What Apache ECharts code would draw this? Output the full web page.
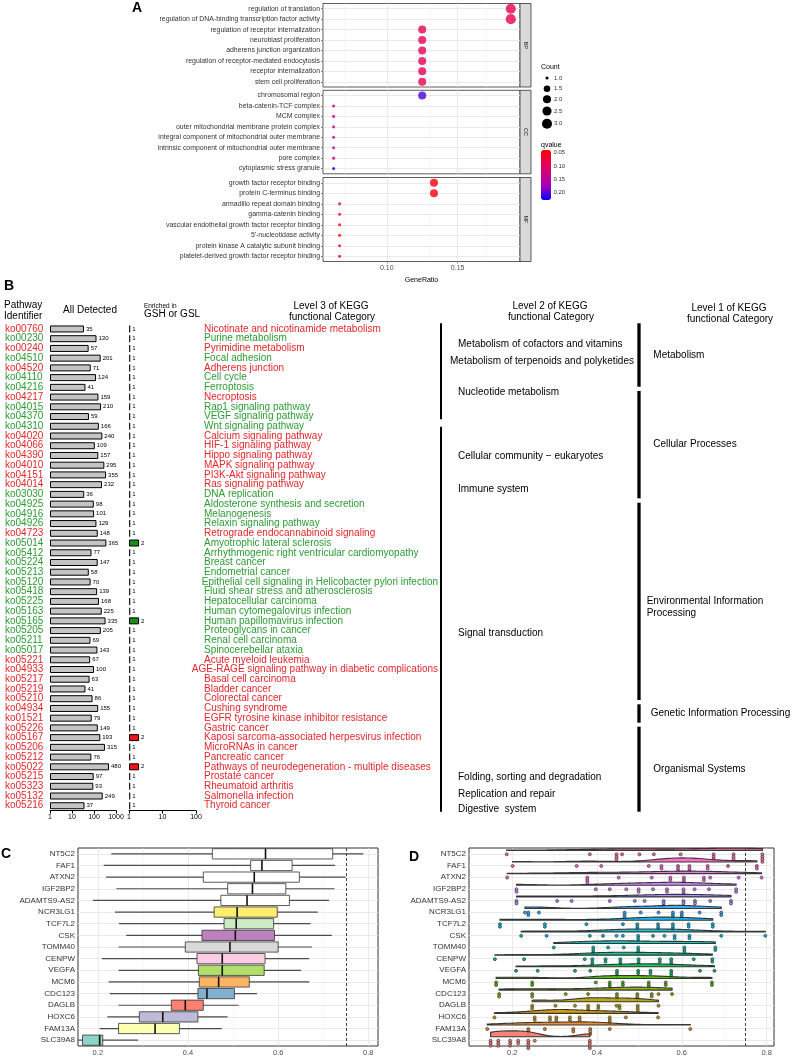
<!DOCTYPE html>
<html><head><meta charset="utf-8">
<script src="https://cdn.jsdelivr.net/npm/echarts/dist/echarts.min.js"></script>
<style>html,body{margin:0;padding:0;background:#fff}
#wrap{position:relative;width:793px;height:1061px}
.layer{position:absolute;left:0;top:0;width:793px;height:1061px}</style>
</head><body><div id="wrap"><div class="layer" id="cA"></div><div class="layer" id="cB"></div><div class="layer" id="cC"></div><div class="layer" id="cD"></div></div>
<script>
// ---------------- DATA ----------------
// Panel A (GO enrichment dot plot)
const bpTerms = ['regulation of translation','regulation of DNA-binding transcription factor activity','regulation of receptor internalization','neuroblast proliferation','adherens junction organization','regulation of receptor-mediated endocytosis','receptor internalization','stem cell proliferation'];
const bpRatio = [0.1875,0.1875,0.125,0.125,0.125,0.125,0.125,0.125];
const bpCount = [3,3,2,2,2,2,2,2];
const bpQ = [0.085,0.085,0.09,0.09,0.09,0.09,0.09,0.09];
const ccTerms = ['chromosomal region','beta-catenin-TCF complex','MCM complex','outer mitochondrial membrane protein complex','integral component of mitochondrial outer membrane','intrinsic component of mitochondrial outer membrane','pore complex','cytoplasmic stress granule'];
const ccRatio = [0.125,0.0625,0.0625,0.0625,0.0625,0.0625,0.0625,0.0625];
const ccCount = [2,1,1,1,1,1,1,1];
const ccQ = [0.205,0.145,0.145,0.145,0.145,0.145,0.145,0.22];
const mfTerms = ['growth factor receptor binding','protein C-terminus binding','armadillo repeat domain binding','gamma-catenin binding','vascular endothelial growth factor receptor binding',"5'-nucleotidase activity",'protein kinase A catalytic subunit binding','platelet-derived growth factor receptor binding'];
const mfRatio = [0.1333,0.1333,0.0667,0.0667,0.0667,0.0667,0.0667,0.0667];
const mfCount = [2,2,1,1,1,1,1,1];
const mfQ = [0.05,0.05,0.055,0.055,0.055,0.055,0.055,0.055];
const ontologies = ['BP','CC','MF'];
const countLegend = [1.0,1.5,2.0,2.5,3.0];
const qLegend = [0.05,0.10,0.15,0.20];

// Panel B (KEGG table)
const pathwayIds = ['ko00760','ko00230','ko00240','ko04510','ko04520','ko04110','ko04216','ko04217','ko04015','ko04370','ko04310','ko04020','ko04066','ko04390','ko04010','ko04151','ko04014','ko03030','ko04925','ko04916','ko04926','ko04723','ko05014','ko05412','ko05224','ko05213','ko05120','ko05418','ko05225','ko05163','ko05165','ko05205','ko05211','ko05017','ko05221','ko04933','ko05217','ko05219','ko05210','ko04934','ko01521','ko05226','ko05167','ko05206','ko05212','ko05022','ko05215','ko05323','ko05132','ko05216'];
const pathwayNames = ['Nicotinate and nicotinamide metabolism','Purine metabolism','Pyrimidine metabolism','Focal adhesion','Adherens junction','Cell cycle','Ferroptosis','Necroptosis','Rap1 signaling pathway','VEGF signaling pathway','Wnt signaling pathway','Calcium signaling pathway','HIF-1 signaling pathway','Hippo signaling pathway','MAPK signaling pathway','PI3K-Akt signaling pathway','Ras signaling pathway','DNA replication','Aldosterone synthesis and secretion','Melanogenesis','Relaxin signaling pathway','Retrograde endocannabinoid signaling','Amyotrophic lateral sclerosis','Arrhythmogenic right ventricular cardiomyopathy','Breast cancer','Endometrial cancer','Epithelial cell signaling in Helicobacter pylori infection','Fluid shear stress and atherosclerosis','Hepatocellular carcinoma','Human cytomegalovirus infection','Human papillomavirus infection','Proteoglycans in cancer','Renal cell carcinoma','Spinocerebellar ataxia','Acute myeloid leukemia','AGE-RAGE signaling pathway in diabetic complications','Basal cell carcinoma','Bladder cancer','Colorectal cancer','Cushing syndrome','EGFR tyrosine kinase inhibitor resistance','Gastric cancer','Kaposi sarcoma-associated herpesvirus infection','MicroRNAs in cancer','Pancreatic cancer','Pathways of neurodegeneration - multiple diseases','Prostate cancer','Rheumatoid arthritis','Salmonella infection','Thyroid cancer'];
const pathwayGroup = ['r','g','r','g','r','g','g','r','g','g','g','r','r','r','r','r','r','g','g','g','g','r','g','g','g','g','g','g','g','g','g','g','g','g','r','r','r','r','r','r','r','r','r','r','r','r','r','r','r','r'];
const allDetected = [35,130,57,201,71,124,41,159,210,59,166,240,109,157,295,355,232,36,98,101,129,148,365,77,147,58,70,139,168,225,335,205,69,143,67,100,63,41,86,155,79,149,193,315,76,480,97,93,249,37];
const enriched = [1,1,1,1,1,1,1,1,1,1,1,1,1,1,1,1,1,1,1,1,1,1,2,1,1,1,1,1,1,1,2,1,1,1,1,1,1,1,1,1,1,1,2,1,1,2,1,1,1,1];
const level2Labels = ['Metabolism of cofactors and vitamins','Metabolism of terpenoids and polyketides','Nucleotide metabolism','Cellular community \u2212 eukaryotes','Immune system','Signal transduction','Folding, sorting and degradation','Replication and repair','Digestive  system'];
const level1Labels = ['Metabolism','Cellular Processes','Environmental Information\nProcessing','Genetic Information Processing','Organismal Systems'];

// Panel C / D
const genes = ['NT5C2','FAF1','ATXN2','IGF2BP2','ADAMTS9-AS2','NCR3LG1','TCF7L2','CSK','TOMM40','CENPW','VEGFA','MCM6','CDC123','DAGLB','HOXC6','FAM13A','SLC39A8'];
const boxMin = [0.230,0.213,0.218,0.241,0.189,0.238,0.247,0.263,0.246,0.209,0.246,0.224,0.227,0.246,0.221,0.204,0.155];
const boxQ1  = [0.454,0.539,0.434,0.488,0.473,0.458,0.480,0.431,0.394,0.420,0.423,0.425,0.422,0.363,0.292,0.246,0.166];
const boxMed = [0.572,0.564,0.547,0.543,0.531,0.509,0.507,0.505,0.493,0.476,0.476,0.468,0.442,0.394,0.344,0.327,0.204];
const boxQ3  = [0.721,0.631,0.647,0.617,0.625,0.598,0.590,0.592,0.600,0.571,0.569,0.536,0.503,0.434,0.422,0.381,0.211];
const boxMax = [0.789,0.726,0.750,0.725,0.713,0.688,0.672,0.719,0.675,0.669,0.651,0.669,0.553,0.512,0.488,0.475,0.289];
const boxColors = ['#FFFFFF','#FFFFFF','#FFFFFF','#FFFFFF','#FFFFFF','#FFED6F','#CCEBC5','#BC80BD','#D9D9D9','#FCCDE5','#B3DE69','#FDB462','#80B1D3','#FB8072','#BEBADA','#FFFFB3','#8DD3C7'];
const cutoff = 0.75;
const dotsNT5C2 = [0.187,0.383,0.446,0.446,0.446,0.459,0.500,0.534,0.597,0.675,0.675,0.675,0.722,0.722,0.722,0.790,0.790,0.790,0.790];
const dotsFAF1 = [0.201,0.352,0.410,0.522,0.552,0.552,0.591,0.591,0.591,0.618,0.618,0.618,0.661,0.661,0.709,0.777,0.777];
const dotsATXN2 = [0.188,0.377,0.377,0.377,0.451,0.529,0.573,0.573,0.605,0.605,0.605,0.652,0.652,0.667,0.734,0.788];
const dotsIGF2BP2 = [0.210,0.210,0.397,0.430,0.469,0.498,0.498,0.532,0.565,0.565,0.604,0.604,0.604,0.630,0.664,0.728,0.728];
const dotsADAMTS9 = [0.210,0.210,0.306,0.340,0.430,0.489,0.512,0.557,0.557,0.557,0.604,0.604,0.631,0.631,0.667,0.716,0.716];
const dotsNCR3LG1 = [0.230,0.238,0.238,0.263,0.465,0.465,0.465,0.503,0.545,0.579,0.579,0.579,0.600,0.600,0.600,0.642,0.693,0.693];
const dotsTCF7L2 = [0.171,0.171,0.277,0.277,0.375,0.461,0.495,0.495,0.495,0.544,0.544,0.544,0.579,0.579,0.579,0.616,0.616,0.673,0.673];
const dotsCSK = [0.221,0.281,0.383,0.414,0.446,0.461,0.497,0.497,0.497,0.532,0.559,0.583,0.583,0.618,0.618,0.693,0.797];
const dotsTOMM40 = [0.298,0.391,0.391,0.391,0.426,0.463,0.497,0.497,0.497,0.606,0.606,0.606,0.679,0.679];
const dotsCENPW = [0.159,0.228,0.371,0.389,0.389,0.389,0.420,0.420,0.455,0.455,0.455,0.498,0.498,0.498,0.548,0.548,0.575,0.575,0.575,0.628,0.672,0.672];
const dotsVEGFA = [0.209,0.260,0.348,0.384,0.447,0.447,0.447,0.497,0.497,0.526,0.526,0.575,0.575,0.575,0.643,0.677];
const dotsMCM6 = [0.162,0.162,0.247,0.247,0.397,0.430,0.430,0.430,0.461,0.461,0.522,0.522,0.522,0.562,0.562,0.671,0.671];
const dotsCDC123 = [0.169,0.169,0.247,0.247,0.326,0.379,0.447,0.447,0.447,0.495,0.495,0.495,0.529,0.529,0.545,0.577];
const dotsDAGLB = [0.247,0.247,0.302,0.348,0.379,0.379,0.379,0.403,0.403,0.446,0.453,0.453,0.496,0.496,0.496,0.545];
const dotsHOXC6 = [0.158,0.253,0.253,0.289,0.289,0.304,0.304,0.336,0.336,0.359,0.359,0.430,0.430,0.430,0.468,0.544];
const dotsFAM13A = [0.141,0.238,0.238,0.238,0.277,0.344,0.344,0.384,0.384,0.384,0.430,0.620];
const dotsSLC39A8 = [0.149,0.149,0.149,0.167,0.167,0.167,0.195,0.195,0.195,0.214,0.214,0.238,0.238,0.238,0.238,0.253,0.383,0.383,0.383,0.383];
const geneDots = [dotsNT5C2,dotsFAF1,dotsATXN2,dotsIGF2BP2,dotsADAMTS9,dotsNCR3LG1,dotsTCF7L2,dotsCSK,dotsTOMM40,dotsCENPW,dotsVEGFA,dotsMCM6,dotsCDC123,dotsDAGLB,dotsHOXC6,dotsFAM13A,dotsSLC39A8];

// ---------------- STYLE HELPERS ----------------
const FONT = '"Liberation Sans", Arial, Helvetica, sans-serif';
const RED = '#E3262C', GREEN = '#2B9B33';
function hcl2hex(h, c, l) {
  const hr = h * Math.PI / 180, U = c * Math.cos(hr), V = c * Math.sin(hr);
  const Xn = 95.047, Yn = 100, Zn = 108.883;
  const un = 4 * Xn / (Xn + 15 * Yn + 3 * Zn), vn = 9 * Yn / (Xn + 15 * Yn + 3 * Zn);
  const Y = Yn * Math.pow((l + 16) / 116, 3);
  const u = U / (13 * l) + un, v = V / (13 * l) + vn;
  const X = 9 * Y * u / (4 * v);
  const Z = 3 * Y / v - X / 3 - 5 * Y;
  const x = X / 100, y = Y / 100, z = Z / 100;
  const lin = [3.240479 * x - 1.53715 * y - 0.498535 * z, -0.969256 * x + 1.875992 * y + 0.041556 * z, 0.055648 * x - 0.204043 * y + 1.057311 * z];
  const g = t => { t = Math.max(0, Math.min(1, t)); return t <= 0.0031308 ? 12.92 * t : 1.055 * Math.pow(t, 1 / 2.4) - 0.055; };
  return '#' + lin.map(t => Math.round(g(t) * 255).toString(16).padStart(2, '0')).join('');
}
const nG = genes.length;
const geneColors = genes.map((g, i) => hcl2hex(15 + (nG - 1 - i) * 360 / nG, 100, 65));
const countSize = c => 1.7 + 1.4 * (1 + 5 * Math.sqrt((c - 1) / 2));

function quant(s, p) { const h = (s.length - 1) * p, lo = Math.floor(h); return s[lo] + (h - lo) * (s[Math.min(lo + 1, s.length - 1)] - s[lo]); }
function nrd0(v) {
  const s = [...v].sort((a, b) => a - b), n = s.length, m = s.reduce((a, b) => a + b, 0) / n;
  const sd = Math.sqrt(s.reduce((a, b) => a + (b - m) * (b - m), 0) / (n - 1));
  let lo = Math.min(sd, (quant(s, 0.75) - quant(s, 0.25)) / 1.34);
  if (!(lo > 0)) lo = sd || 1;
  return 0.9 * lo * Math.pow(n, -0.2);
}
const kde = geneDots.map(v => {
  const bw = nrd0(v), mn = Math.min(...v), mx = Math.max(...v), xs = [], ys = [];
  for (let k = 0; k <= 80; k++) {
    const x = mn + (mx - mn) * k / 80;
    xs.push(x);
    ys.push(v.reduce((s, d) => s + Math.exp(-0.5 * ((x - d) / bw) ** 2), 0) / (v.length * bw * Math.sqrt(2 * Math.PI)));
  }
  return {xs, ys};
});
const kdeMax = Math.max(...kde.map(d => Math.max(...d.ys)));

const mctx = document.createElement('canvas').getContext('2d');
mctx.font = '10px ' + FONT;
const isLong = name => 204 + mctx.measureText(name).width > 438;
const groupOf = {};
pathwayIds.forEach((id, i) => { groupOf[id] = pathwayGroup[i]; groupOf[pathwayNames[i]] = pathwayGroup[i]; });

const T = (text, x, y, o) => ({type: 'text', x, y, silent: true, style: Object.assign({text, fill: '#000', fontSize: 10, fontFamily: FONT, align: 'left', verticalAlign: 'middle'}, o || {})});
const L = (x1, y1, x2, y2, w) => ({type: 'line', silent: true, shape: {x1, y1, x2, y2}, style: {stroke: '#000', lineWidth: w}});
const gl = major => ({color: major ? '#E4E4E4' : '#F1F1F1', width: major ? 0.8 : 0.5, type: 'solid'});
const mk = (id) => echarts.init(document.getElementById(id), null, {renderer: 'canvas', width: 793, height: 1061});
const base = {animation: false, backgroundColor: 'transparent', textStyle: {fontFamily: FONT}};

// ================= PANEL A =================
(function () {
  const aPanels = [
    {terms: bpTerms, ratio: bpRatio, count: bpCount, q: bpQ, top: 3.5, h: 83.5},
    {terms: ccTerms, ratio: ccRatio, count: ccCount, q: ccQ, top: 90.3, h: 83.5},
    {terms: mfTerms, ratio: mfRatio, count: mfCount, q: mfQ, top: 177.5, h: 84}
  ];
  const grid = [], xAxis = [], yAxis = [], series = [], G = [];
  aPanels.forEach((p, i) => {
    grid.push({left: 323, top: p.top, width: 197, height: p.h, show: true, borderColor: '#333', borderWidth: 0.8, backgroundColor: '#fff'});
    xAxis.push({gridIndex: i, type: 'value', min: 0.055, max: 0.194, splitLine: {show: false}, axisLine: {show: false},
      axisTick: {show: i === 2, customValues: [0.1, 0.15], length: 2, lineStyle: {color: '#333', width: 0.6}},
      axisLabel: {show: i === 2, customValues: [0.1, 0.15], formatter: v => v.toFixed(2), fontSize: 7, color: '#4d4d4d', margin: 3},
      name: i === 2 ? 'GeneRatio' : '', nameLocation: 'middle', nameGap: 15, nameTextStyle: {fontSize: 7, color: '#000'}});
    yAxis.push({gridIndex: i, type: 'category', data: p.terms, inverse: true, axisLine: {show: false},
      axisTick: {show: true, alignWithLabel: true, length: 2, lineStyle: {color: '#333', width: 0.6}},
      axisLabel: {interval: 0, fontSize: 6.9, color: '#333', margin: 3}, splitLine: {show: false}});
    series.push({type: 'scatter', xAxisIndex: i, yAxisIndex: i, z: 3, silent: true,
      data: p.terms.map((t, j) => [p.ratio[j], t, p.count[j], p.q[j]]),
      symbolSize: v => countSize(v[2]),
      markLine: {silent: true, symbol: 'none', z: 1, animation: false, label: {show: false},
        data: [0.075, 0.1, 0.125, 0.15, 0.175].map(x => ({xAxis: x, lineStyle: gl(Math.abs(x - 0.1) < 1e-9 || Math.abs(x - 0.15) < 1e-9)}))
          .concat(p.terms.map(t => ({yAxis: t, lineStyle: gl(true)})))}});
    G.push({type: 'rect', silent: true, shape: {x: 520, y: p.top, width: 11, height: p.h}, style: {fill: '#D9D9D9', stroke: '#333', lineWidth: 0.8}});
    const st = T(ontologies[i], 525.5, p.top + p.h / 2, {fontSize: 5.5, align: 'center', fill: '#1a1a1a'});
    st.rotation = -Math.PI / 2;
    G.push(st);
  });
  G.push(T('A', 137, 8, {fontSize: 14, fontWeight: 'bold', align: 'center'}));
  G.push(T('Count', 541, 67, {fontSize: 7}));
  const countY = [78, 88.7, 99.3, 111, 123.7];
  countLegend.forEach((c, k) => {
    G.push({type: 'circle', silent: true, shape: {cx: 547, cy: countY[k], r: countSize(c) / 2}, style: {fill: '#000'}});
    G.push(T(c.toFixed(1), 554, countY[k], {fontSize: 6, fill: '#333'}));
  });
  G.push(T('qvalue', 541, 145, {fontSize: 7}));
  qLegend.forEach(q => G.push(T(q.toFixed(2), 553.5, 150 + (q - 0.04) / 0.187 * 50, {fontSize: 6, fill: '#333'})));
  mk('cA').setOption(Object.assign({}, base, {grid, xAxis, yAxis, series,
    visualMap: [{type: 'continuous', seriesIndex: [0, 1, 2], dimension: 3, min: 0.04, max: 0.227,
      inRange: {color: ['#FF0000', '#E8004F', '#C90089', '#9A00C2', '#0000FF']},
      show: true, orient: 'vertical', inverse: true, left: 541, top: 150, itemWidth: 10, itemHeight: 50,
      calculable: false, hoverLink: false, padding: 0, text: null, textStyle: {fontSize: 1, color: 'rgba(0,0,0,0)'}}],
    graphic: {elements: G}}));
})();

// ================= PANEL B =================
(function () {
  const bTop = 324.1, bH = 486.5;
  const rich = {r: {color: RED, fontSize: 10, fontFamily: FONT}, g: {color: GREEN, fontSize: 10, fontFamily: FONT}};
  const logAxis = (gi, max) => ({gridIndex: gi, type: 'log', logBase: 10, min: 1, max: max,
    axisLine: {show: true, onZero: false, lineStyle: {color: '#000', width: 1}},
    axisTick: {show: true, length: 3, lineStyle: {color: '#000', width: 1}},
    minorTick: {show: false}, splitLine: {show: false},
    axisLabel: {fontSize: 7, color: '#000', margin: 3, formatter: v => String(Math.round(v))}});
  const G = [];
  G.push(T('B', 9, 286, {fontSize: 14, fontWeight: 'bold', align: 'center'}));
  G.push(T('Pathway', 4, 305.5));
  G.push(T('Identifier', 4, 316));
  G.push(T('All Detected', 90, 310, {align: 'center'}));
  G.push(T('Enriched in', 144, 306, {fontSize: 6.5}));
  G.push(T('GSH or GSL', 144, 314.5));
  G.push(T('Level 3 of KEGG', 331, 306.5, {align: 'center'}));
  G.push(T('functional Category', 332, 317, {align: 'center'}));
  G.push(T('Level 2 of KEGG', 550, 306.5, {align: 'center'}));
  G.push(T('functional Category', 551, 317, {align: 'center'}));
  G.push(T('Level 1 of KEGG', 729, 308, {align: 'center'}));
  G.push(T('functional Category', 730, 319, {align: 'center'}));
  G.push(L(441, 323.3, 441, 419.3, 2));
  G.push(L(441, 426.7, 441, 811.7, 2));
  const level2Pos = [[458, 344], [450, 361], [458, 392.3], [458, 456.7], [458, 489.3], [458, 633.3], [458, 777.3], [458, 794], [458, 809.3]];
  level2Labels.forEach((t, k) => G.push(T(t, level2Pos[k][0], level2Pos[k][1])));
  [[323.3, 386.7], [391, 498.3], [502.7, 700], [704.3, 722.7], [726.7, 811.7]].forEach(s => G.push(L(639, s[0], 639, s[1], 3.3)));
  const level1Pos = [[653.3, 355], [653.3, 444.3], [646.7, 607.2], [650.7, 713.3], [653.3, 769]];
  level1Labels.forEach((t, k) => G.push(T(t, level1Pos[k][0], level1Pos[k][1], {lineHeight: 12.3})));

  mk('cB').setOption(Object.assign({}, base, {
    grid: [{left: 50, top: bTop, width: 66, height: bH, show: false}, {left: 129, top: bTop, width: 67, height: bH, show: false}],
    xAxis: [logAxis(0, 1000), logAxis(1, 100)],
    yAxis: [
      {gridIndex: 0, type: 'category', data: pathwayIds, inverse: true, axisLine: {show: false}, axisTick: {show: false},
        axisLabel: {interval: 0, align: 'left', margin: 45, formatter: v => '{' + groupOf[v] + '|' + v + '}', rich}},
      {gridIndex: 1, type: 'category', data: pathwayNames, inverse: true, position: 'right', axisLine: {show: false}, axisTick: {show: false},
        axisLabel: {interval: 0, align: 'left', margin: 8, formatter: v => isLong(v) ? '' : '{' + groupOf[v] + '|' + v + '}', rich}},
      {gridIndex: 1, type: 'category', data: pathwayNames, inverse: true, position: 'right', axisLine: {show: false}, axisTick: {show: false},
        axisLabel: {interval: 0, align: 'right', margin: 242, formatter: v => isLong(v) ? '{' + groupOf[v] + '|' + v + '}' : '', rich}}
    ],
    series: [
      {type: 'bar', xAxisIndex: 0, yAxisIndex: 0, barWidth: 7, silent: true, z: 3,
        data: pathwayIds.map((id, i) => [allDetected[i], id]), encode: {x: 0, y: 1},
        itemStyle: {color: '#C4C4C4', borderColor: '#000', borderWidth: 1},
        label: {show: true, position: 'right', distance: 2, fontSize: 6, color: '#000', formatter: p => String(allDetected[p.dataIndex])}},
      {type: 'bar', xAxisIndex: 1, yAxisIndex: 1, barWidth: 7, barMinHeight: 1.3, silent: true, z: 3,
        data: pathwayNames.map((nm, i) => ({value: [enriched[i], nm], itemStyle: enriched[i] > 1 ? {color: pathwayGroup[i] === 'g' ? '#178F17' : '#F01414', borderColor: '#000', borderWidth: 1} : {color: '#222', borderWidth: 0}})),
        encode: {x: 0, y: 1},
        label: {show: true, position: 'right', distance: 2, fontSize: 6, color: '#000', formatter: p => String(enriched[p.dataIndex])}}
    ],
    graphic: {elements: G}}));
})();

// ================= PANELS C & D =================
const cdX = (mn, mx) => ({type: 'value', min: mn, max: mx, splitLine: {show: false}, axisLine: {show: false},
  axisTick: {customValues: [0.2, 0.4, 0.6, 0.8], length: 3, lineStyle: {color: '#333', width: 0.8}},
  axisLabel: {customValues: [0.2, 0.4, 0.6, 0.8], formatter: v => v.toFixed(1), fontSize: 7.5, color: '#4d4d4d', margin: 3}});
const cdY = () => ({type: 'category', data: genes, inverse: true, axisLine: {show: false},
  axisTick: {alignWithLabel: true, length: 2.5, lineStyle: {color: '#333', width: 0.8}},
  axisLabel: {interval: 0, fontSize: 8, color: '#333', margin: 3}});
const cdGrid = [0.2, 0.3, 0.4, 0.5, 0.6, 0.7, 0.8].map(x => ({xAxis: x, lineStyle: gl([0.2, 0.4, 0.6, 0.8].some(m => Math.abs(m - x) < 1e-9))}))
  .concat(genes.map(g => ({yAxis: g, lineStyle: gl(true)})));
const helpers = () => [
  {type: 'scatter', z: 1, silent: true, symbolSize: 0, data: [[0.5, genes[0]]],
    markLine: {silent: true, symbol: 'none', z: 1, animation: false, label: {show: false}, data: cdGrid}},
  {type: 'scatter', z: 6, silent: true, symbolSize: 0, data: [[0.5, genes[0]]],
    markLine: {silent: true, symbol: 'none', z: 6, animation: false, label: {show: false},
      data: [{xAxis: cutoff, lineStyle: {color: '#444', width: 1, type: [3, 2]}}]}}
];

(function () {
  mk('cC').setOption(Object.assign({}, base, {
    grid: {left: 78, top: 848, width: 300, height: 198, show: true, borderColor: '#333', borderWidth: 1, backgroundColor: '#fff'},
    xAxis: cdX(0.156, 0.8215), yAxis: cdY(),
    series: helpers().concat([{type: 'custom', z: 3, silent: true,
      data: genes.map((g, i) => [boxMin[i], boxQ1[i], boxMed[i], boxQ3[i], boxMax[i], i]),
      encode: {x: [0, 1, 2, 3, 4], y: 5},
      renderItem: (params, api) => {
        const i = api.value(5);
        const p = [0, 1, 2, 3, 4].map(k => api.coord([api.value(k), i]));
        const y = p[0][1], h = api.size([0, 1])[1] * 0.88;
        return {type: 'group', children: [
          {type: 'line', shape: {x1: p[0][0], y1: y, x2: p[4][0], y2: y}, style: {stroke: '#4d4d4d', lineWidth: 1.2}},
          {type: 'rect', shape: {x: p[1][0], y: y - h / 2, width: p[3][0] - p[1][0], height: h}, style: {fill: boxColors[i], stroke: '#333', lineWidth: 0.8}},
          {type: 'line', shape: {x1: p[2][0], y1: y - h / 2, x2: p[2][0], y2: y + h / 2}, style: {stroke: '#111', lineWidth: 1.6}}
        ]};
      }}]),
    graphic: {elements: [T('C', 6, 854, {fontSize: 14, fontWeight: 'bold', align: 'center'})]}}));
})();

(function () {
  mk('cD').setOption(Object.assign({}, base, {
    grid: {left: 469, top: 848, width: 305, height: 198, show: true, borderColor: '#333', borderWidth: 1, backgroundColor: '#fff'},
    xAxis: cdX(0.098, 0.8174), yAxis: cdY(),
    series: helpers().concat([{type: 'custom', z: 3, silent: true,
      data: genes.map((g, i) => [Math.min(...geneDots[i]), Math.max(...geneDots[i]), i]),
      encode: {x: [0, 1], y: 2},
      renderItem: (params, api) => {
        const i = api.value(2);
        const band = api.size([0, 1])[1];
        const yc = api.coord([0, i])[1];
        const yb = yc - 0.3 * band, H = 0.5 * band, d = kde[i];
        const pts = d.xs.map((x, k) => [api.coord([x, i])[0], yb - d.ys[k] / kdeMax * H]);
        pts.push([api.coord([d.xs[d.xs.length - 1], i])[0], yb]);
        pts.push([api.coord([d.xs[0], i])[0], yb]);
        const children = [{type: 'polygon', shape: {points: pts}, style: {fill: geneColors[i], stroke: '#262626', lineWidth: 1.1, opacity: 0.9}}];
        const seen = {};
        geneDots[i].forEach(v => {
          const k = seen[v] = (seen[v] || 0) + 1;
          const c = api.coord([v, i]);
          children.push({type: 'circle', shape: {cx: c[0], cy: yc + 0.5 + (k - 1) * 2.5, r: 1.5}, style: {fill: geneColors[i], stroke: '#333', lineWidth: 0.7}});
        });
        return {type: 'group', children};
      }}]),
    graphic: {elements: [T('D', 414, 857, {fontSize: 14, fontWeight: 'bold', align: 'center'})]}}));
})();
</script>
</body></html>
